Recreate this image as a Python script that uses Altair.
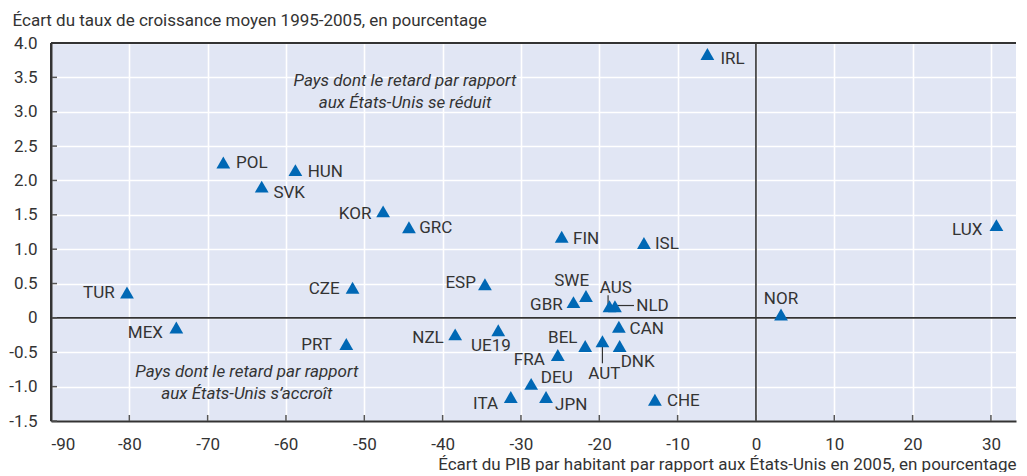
import altair as alt
import pandas as pd

# ---- data ----
countries = ["IRL", "POL", "HUN", "SVK", "KOR", "GRC", "CZE", "TUR", "MEX", "PRT",
             "FIN", "ISL", "ESP", "SWE", "GBR", "AUS", "NLD", "NZL", "UE19", "CAN",
             "BEL", "AUT", "DNK", "FRA", "DEU", "ITA", "JPN", "CHE", "NOR", "LUX"]
gdp_gap = [-6.2, -68.0, -58.8, -63.1, -47.6, -44.3, -51.5, -80.3, -74.0, -52.3,
           -24.8, -14.3, -34.6, -21.7, -23.3, -18.7, -18.0, -38.4, -32.9, -17.5,
           -21.8, -19.6, -17.4, -25.3, -28.7, -31.3, -26.8, -12.9, 3.2, 30.7]
growth_gap = [3.84, 2.26, 2.15, 1.91, 1.55, 1.32, 0.44, 0.37, -0.14, -0.38,
              1.18, 1.09, 0.49, 0.32, 0.23, 0.17, 0.17, -0.24, -0.18, -0.13,
              -0.41, -0.34, -0.41, -0.54, -0.96, -1.15, -1.15, -1.19, 0.05, 1.35]

x_ticks = [-90, -80, -70, -60, -50, -40, -30, -20, -10, 0, 10, 20, 30]
y_ticks = [-1.5, -1.0, -0.5, 0, 0.5, 1.0, 1.5, 2.0, 2.5, 3.0, 3.5, 4.0]

x_title = "Écart du PIB par habitant par rapport aux États-Unis en 2005, en pourcentage"
y_title = "Écart du taux de croissance moyen 1995-2005, en pourcentage"

note_lines = ["Pays dont le retard par rapport", "aux États-Unis se réduit",
              "Pays dont le retard par rapport", "aux États-Unis s\u2019accroît"]
note_x = [-44.8, -44.8, -65.0, -65.0]
note_y = [3.45, 3.13, -0.78, -1.10]

# ---- label placement (layout): align, dx, dy in pixels ----
label_pos = {
    "IRL": ("left", 13, 5), "POL": ("left", 12.7, 0), "HUN": ("left", 12.3, 2),
    "SVK": ("left", 11.7, 6), "GRC": ("left", 10.3, 0.7), "FIN": ("left", 11.3, 2.3),
    "ISL": ("left", 11, 1), "NLD": ("left", 21.3, -0.7), "CAN": ("left", 10.7, 2.3),
    "DNK": ("left", 1, 16), "DEU": ("left", 9.7, -6), "JPN": ("left", 9, 8.3),
    "CHE": ("left", 12, 1),
    "KOR": ("right", -11.7, 2.7), "CZE": ("right", -13, 1), "TUR": ("right", -12.3, 0.7),
    "MEX": ("right", -13.3, 5), "PRT": ("right", -14.3, 0.7), "ESP": ("right", -9, -1.6),
    "GBR": ("right", -10.7, 3), "NZL": ("right", -11.4, 3.4), "FRA": ("right", -13, 4.7),
    "ITA": ("right", -12.7, 7), "LUX": ("right", -14, 5.3), "BEL": ("right", -7.7, -8.3),
    "SWE": ("center", -14.3, -15), "AUS": ("center", 6.3, -18), "UE19": ("center", -7.4, 15.7),
    "AUT": ("center", 2, 32.3), "NOR": ("center", 0, -15.6),
}

df = pd.DataFrame({"pays": countries, "x": gdp_gap, "y": growth_gap})
notes = pd.DataFrame({"t": note_lines, "x": note_x, "y": note_y})

W, H = 965, 378
FONT = "Roboto"
INK = "#333333"
BLUE = "#0068b5"
MINUS = "\u2212"

xscale = alt.Scale(domain=[-90, 33.2], nice=False, zero=False)
yscale = alt.Scale(domain=[-1.5, 4.0], nice=False, zero=False)

xaxis = alt.Axis(values=x_ticks, grid=True, gridColor="white", gridWidth=1.6,
                 ticks=False, domainColor=INK, domainWidth=2,
                 labelFont=FONT, labelFontSize=17, labelColor=INK, labelPadding=15,
                 labelFlush=True, labelOverlap=False,
                 labelExpr=f"replace(format(datum.value, 'd'), '{MINUS}', '-')",
                 title=x_title, titleFont=FONT, titleFontSize=17, titleFontWeight="normal",
                 titleColor=INK, titleAnchor="end", titleAlign="right", titleX=W,
                 titleY=48, titleBaseline="alphabetic")
yaxis = alt.Axis(values=y_ticks, grid=True, gridColor="white", gridWidth=1.6,
                 ticks=False, domainColor=INK, domainWidth=2,
                 labelFont=FONT, labelFontSize=17, labelColor=INK, labelPadding=14,
                 labelFlush=False, labelOverlap=False, labelBound=False,
                 labelExpr=f"datum.value == 0 ? '0' : replace(format(datum.value, '.1f'), '{MINUS}', '-')",
                 title=y_title, titleFont=FONT, titleFontSize=17, titleFontWeight="normal",
                 titleColor=INK, titleAngle=0, titleAlign="left", titleX=-39, titleY=-18,
                 titleBaseline="alphabetic")

X0 = lambda f: alt.X(f, scale=xscale, axis=xaxis)
Y0 = lambda f: alt.Y(f, scale=yscale, axis=yaxis)

base = alt.Chart(df)

points = base.mark_point(shape="triangle-up", filled=True, size=190, opacity=1,
                         color=BLUE).encode(x=X0("x:Q"), y=Y0("y:Q"))

label_layers = []
for c, (al, dx, dy) in label_pos.items():
    label_layers.append(
        base.transform_filter(alt.datum.pays == c).mark_text(
            align=al, baseline="middle", font=FONT, fontSize=17, color=INK,
            dx=dx, dy=dy
        ).encode(x=X0("x:Q"), y=Y0("y:Q"), text="pays:N")
    )

# leader lines
aus_line = base.transform_filter(alt.datum.pays == "AUS").mark_rule(
    color=INK, strokeWidth=1.2, xOffset=-1.4, yOffset=-1, y2Offset=-11
).encode(x=X0("x:Q"), y=Y0("y:Q"), y2="y:Q")
aut_line = base.transform_filter(alt.datum.pays == "AUT").mark_rule(
    color=INK, strokeWidth=1.2, yOffset=4, y2Offset=22
).encode(x=X0("x:Q"), y=Y0("y:Q"), y2="y:Q")
nld_line = base.transform_filter(alt.datum.pays == "NLD").mark_rule(
    color=INK, strokeWidth=1.2, xOffset=2, x2Offset=19, yOffset=-0.7
).encode(x=X0("x:Q"), x2="x:Q", y=Y0("y:Q"))

zero_h = alt.Chart(pd.DataFrame({"v": [0]})).mark_rule(color=INK, strokeWidth=1.6).encode(
    y=Y0("v:Q"))
zero_v = alt.Chart(pd.DataFrame({"v": [0]})).mark_rule(color=INK, strokeWidth=1.6).encode(
    x=X0("v:Q"))

ytick_marks = alt.Chart(pd.DataFrame({"v": y_ticks})).mark_rule(
    color="#555555", strokeWidth=1.5).encode(
    y=Y0("v:Q"), x=alt.value(0), x2=alt.value(6))
xtick_marks = alt.Chart(pd.DataFrame({"v": x_ticks})).mark_rule(
    color="#555555", strokeWidth=1.5).encode(
    x=X0("v:Q"), y=alt.value(H), y2=alt.value(H - 6))

top_border = alt.Chart(pd.DataFrame({"v": [0]})).mark_rule(
    color=INK, strokeWidth=2).encode(
    x=alt.value(0), x2=alt.value(W), y=alt.value(0))
left_border = alt.Chart(pd.DataFrame({"v": [0]})).mark_rule(
    color=INK, strokeWidth=2).encode(
    x=alt.value(0), y=alt.value(0), y2=alt.value(H))

note_layer = alt.Chart(notes).mark_text(
    align="center", baseline="middle", font=FONT, fontSize=17, fontStyle="italic",
    color=INK).encode(x=X0("x:Q"), y=Y0("y:Q"), text="t:N")

chart = alt.layer(
    zero_h, zero_v, ytick_marks, xtick_marks, top_border, left_border,
    note_layer, aus_line, aut_line, nld_line, points, *label_layers
).properties(
    width=W, height=H,
    padding={"left": 0, "top": 3, "right": 0, "bottom": 0},
).configure_view(stroke=None, fill="#e1e6f4")

chart.save("out.html", embed_options={"renderer": "svg", "actions": False})
